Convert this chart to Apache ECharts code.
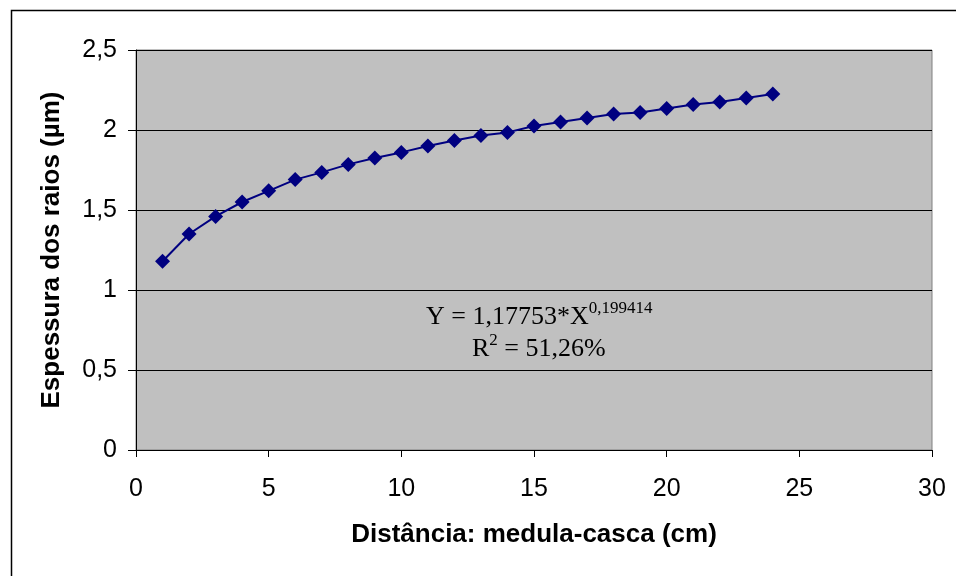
<!DOCTYPE html>
<html>
<head>
<meta charset="utf-8">
<script src="https://cdn.jsdelivr.net/npm/echarts@6/dist/echarts.min.js"></script>
<style>
html,body{margin:0;padding:0;background:#fff;}
#c{width:956px;height:576px;}
</style>
</head>
<body>
<div id="c"></div>
<script>
// Data
var xValues = [1,2,3,4,5,6,7,8,9,10,11,12,13,14,15,16,17,18,19,20,21,22,23,24];
var yValues = [1.18,1.35,1.46,1.55,1.62,1.69,1.735,1.785,1.825,1.86,1.90,1.935,1.965,1.985,2.025,2.05,2.075,2.10,2.11,2.135,2.16,2.175,2.20,2.225];
var xTitle = 'Distância: medula-casca (cm)';
var yTitle = 'Espessura dos raios (µm)';
var eqLine1 = 'Y = 1,17753*X';
var eqExponent = '0,199414';
var eqLine2a = 'R';
var eqLine2sup = '2';
var eqLine2b = ' = 51,26%';

var chart = echarts.init(document.getElementById('c'), null, {renderer:'canvas'});
var fmt = function(v){ return String(v).replace('.', ','); };
var points = xValues.map(function(x,i){ return [x, yValues[i]]; });

chart.setOption({
  animation:false,
  backgroundColor:'#fff',
  grid:{left:136, top:50, right:24, bottom:126, show:true, backgroundColor:'#C0C0C0', borderColor:'#808080', borderWidth:1, containLabel:false},
  xAxis:{
    type:'value', min:0, max:30, interval:5,
    name:xTitle, nameLocation:'middle', nameGap:72,
    nameTextStyle:{fontFamily:'Liberation Sans, Arial', fontWeight:'bold', fontSize:26, color:'#000'},
    axisLine:{show:true, onZero:false, lineStyle:{color:'#000', width:1}},
    axisTick:{show:true, length:7, lineStyle:{color:'#000'}},
    axisLabel:{fontFamily:'Liberation Sans, Arial', fontSize:25, color:'#000', margin:27},
    splitLine:{show:false}
  },
  yAxis:{
    type:'value', min:0, max:2.5, interval:0.5,
    name:yTitle, nameLocation:'middle', nameGap:71, nameRotate:90,
    nameTextStyle:{fontFamily:'Liberation Sans, Arial', fontWeight:'bold', fontSize:26, color:'#000'},
    axisLine:{show:true, lineStyle:{color:'#000', width:1}},
    axisTick:{show:true, length:8, lineStyle:{color:'#000'}},
    axisLabel:{fontFamily:'Liberation Sans, Arial', fontSize:25, color:'#000', margin:19, formatter:fmt},
    splitLine:{show:true, lineStyle:{color:'#000', width:1}}
  },
  series:[{
    type:'line', data:points, symbol:'diamond', symbolSize:15,
    itemStyle:{color:'#000080'}, lineStyle:{color:'#000080', width:2},
    z:5
  }],
  graphic:[
    {type:'rect', left:9, top:8, shape:{width:960, height:580}, style:{fill:'none', stroke:'#000', lineWidth:1.5}, silent:true, z:-10},
    {type:'text', left:426, top:300, z:20, style:{
      text:'{n|' + eqLine1 + '}{s|' + eqExponent + '}',
      rich:{
        n:{fontFamily:'Liberation Serif, Times New Roman', fontSize:26, fill:'#000', verticalAlign:'bottom', lineHeight:30},
        s:{fontFamily:'Liberation Serif, Times New Roman', fontSize:17, fill:'#000', verticalAlign:'top', lineHeight:30}
      }
    }},
    {type:'text', left:472, top:332, z:20, style:{
      text:'{n|' + eqLine2a + '}{s|' + eqLine2sup + '}{n|' + eqLine2b + '}',
      rich:{
        n:{fontFamily:'Liberation Serif, Times New Roman', fontSize:26, fill:'#000', verticalAlign:'bottom', lineHeight:30},
        s:{fontFamily:'Liberation Serif, Times New Roman', fontSize:17, fill:'#000', verticalAlign:'top', lineHeight:30}
      }
    }}
  ]
});
</script>
</body>
</html>
